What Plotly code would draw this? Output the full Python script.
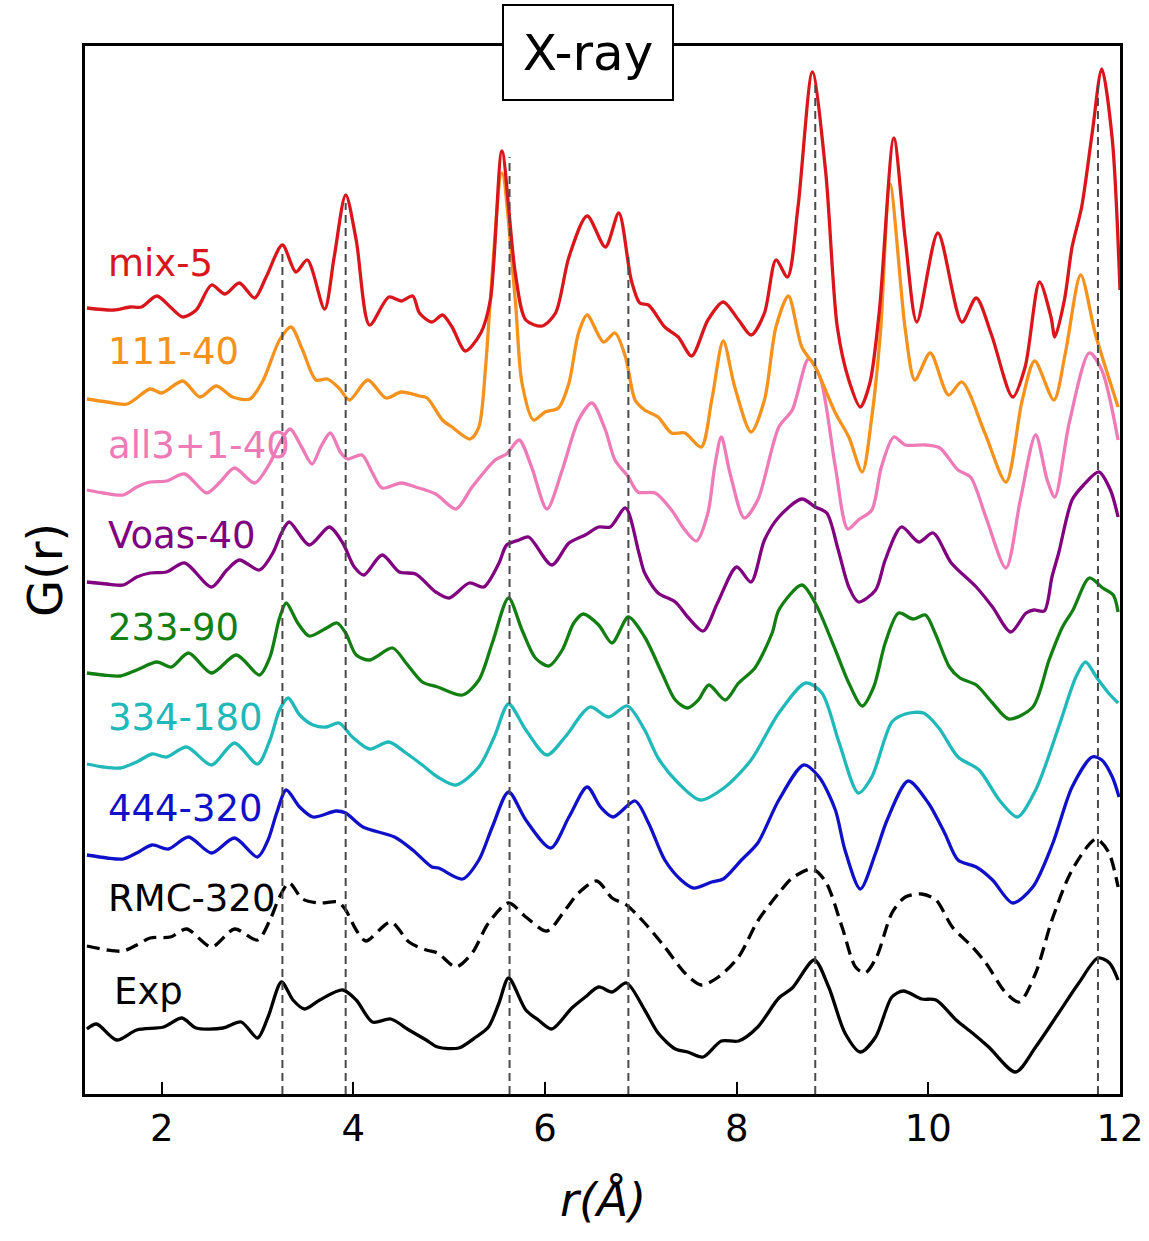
import plotly.graph_objects as go

# ---------------- data (G(r) of each model, r in Angstrom) ----------------
labels = ["mix-5", "111-40", "all3+1-40", "Voas-40", "233-90", "334-180", "444-320", "RMC-320", "Exp"]
offsets = [7.86, 6.94, 6.04, 5.12, 4.21, 3.30, 2.39, 1.48, 0.64]

mix5_r = [1.22,1.50,1.67,1.79,1.95,2.09,2.22,2.36,2.52,2.66,
          2.81,2.97,3.09,3.26,3.40,3.52,3.70,3.80,3.92,4.03,
          4.17,4.37,4.50,4.62,4.69,4.82,4.93,5.03,5.17,5.33,
          5.43,5.55,5.69,5.80,5.97,6.11,6.25,6.44,6.63,6.77,
          6.90,6.99,7.08,7.25,7.39,7.53,7.70,7.86,8.02,8.15,
          8.29,8.41,8.53,8.64,8.79,8.93,9.05,9.17,9.29,9.39,
          9.49,9.64,9.76,9.88,10.10,10.35,10.50,10.66,10.88,11.01,
          11.16,11.28,11.32,11.42,11.50,11.60,11.71,11.81,11.92,12.00]
mix5_g = [0.00,-0.02,0.01,0.01,0.12,0.01,-0.09,-0.02,0.23,0.14,
          0.25,0.10,0.31,0.63,0.36,0.48,-0.01,0.51,1.13,0.68,
          -0.17,0.11,0.07,0.12,-0.05,-0.14,-0.07,-0.19,-0.43,-0.25,
          0.08,1.57,0.35,-0.12,-0.18,-0.05,0.51,0.92,0.61,0.95,
          0.28,0.05,0.03,-0.19,-0.29,-0.48,-0.12,0.06,-0.12,-0.27,
          -0.05,0.48,0.31,1.01,2.36,1.35,-0.19,-0.72,-0.99,-0.75,
          -0.02,1.70,0.68,-0.14,0.75,-0.14,0.10,-0.27,-0.89,-0.59,
          0.26,-0.09,-0.29,0.08,0.61,1.01,1.75,2.39,1.68,0.18]

s111_r = [1.22,1.43,1.64,1.88,2.00,2.22,2.40,2.57,2.74,2.92,
          3.06,3.23,3.35,3.47,3.61,3.73,3.85,3.96,4.15,4.34,
          4.50,4.69,4.77,4.93,5.03,5.22,5.31,5.38,5.43,5.55,
          5.69,5.76,5.88,6.00,6.14,6.25,6.35,6.44,6.61,6.73,
          6.84,6.94,7.04,7.18,7.32,7.46,7.63,7.74,7.86,7.98,
          8.15,8.29,8.41,8.54,8.68,8.82,9.03,9.17,9.31,9.41,
          9.50,9.60,9.76,9.86,10.02,10.21,10.35,10.59,10.81,10.98,
          11.11,11.31,11.43,11.59,11.74,11.88,11.98]
s111_g = [0.01,-0.02,-0.04,0.11,0.07,0.19,0.03,0.14,0.03,0.01,
          0.20,0.60,0.73,0.50,0.20,0.21,0.12,0.00,0.20,0.02,
          0.08,0.04,0.02,-0.20,-0.27,-0.39,-0.27,0.33,1.00,2.27,
          1.00,0.17,-0.20,-0.12,-0.08,0.17,0.67,0.85,0.58,0.67,
          0.43,0.00,-0.10,-0.17,-0.33,-0.33,-0.47,0.00,0.59,0.13,
          -0.32,0.00,0.73,1.04,0.53,0.33,-0.13,-0.37,-0.72,-0.17,
          0.67,2.16,0.70,0.20,0.47,0.05,0.18,-0.33,-0.82,0.00,
          0.39,0.00,0.47,1.25,0.67,0.23,-0.07]

all3_r = [1.22,1.39,1.60,1.74,1.88,2.05,2.24,2.47,2.61,2.76,
          2.97,3.13,3.23,3.34,3.46,3.57,3.66,3.76,3.87,3.94,
          4.09,4.20,4.30,4.50,4.65,4.86,5.07,5.24,5.48,5.60,
          5.73,5.86,6.02,6.18,6.35,6.49,6.63,6.73,6.87,6.97,
          7.15,7.32,7.46,7.58,7.70,7.77,7.84,7.93,8.08,8.22,
          8.44,8.58,8.75,8.87,9.03,9.16,9.27,9.41,9.51,9.64,
          9.76,9.97,10.12,10.31,10.44,10.60,10.81,10.96,11.12,11.24,
          11.32,11.47,11.68,11.81,11.98]
all3_g = [0.00,-0.03,-0.05,0.03,0.08,0.09,0.16,-0.03,0.08,0.22,
          0.07,0.27,0.47,0.61,0.43,0.26,0.43,0.57,0.37,0.31,
          0.35,0.17,0.02,0.07,0.03,-0.04,-0.19,0.03,0.30,0.36,
          0.50,0.23,-0.19,0.20,0.70,0.87,0.60,0.30,0.13,-0.02,
          -0.03,-0.20,-0.40,-0.51,-0.23,0.23,0.53,0.17,-0.28,-0.10,
          0.63,0.80,1.31,1.13,0.23,-0.39,-0.30,-0.20,0.23,0.53,
          0.45,0.45,0.42,0.20,0.13,-0.27,-0.78,-0.10,0.55,0.10,
          -0.07,0.67,1.37,1.20,0.50]

voas_r = [1.22,1.43,1.60,1.74,1.88,2.05,2.24,2.52,2.68,2.81,
          3.02,3.16,3.25,3.33,3.54,3.75,3.89,4.01,4.11,4.30,
          4.48,4.65,4.86,5.00,5.21,5.36,5.52,5.60,5.73,5.83,
          6.07,6.25,6.42,6.56,6.68,6.84,6.98,7.04,7.18,7.36,
          7.49,7.65,7.80,8.00,8.15,8.29,8.44,8.68,8.82,8.94,
          9.06,9.17,9.27,9.45,9.55,9.72,9.90,10.05,10.24,10.50,
          10.67,10.86,11.02,11.10,11.21,11.29,11.36,11.50,11.62,11.78,
          11.90,11.98]
voas_g = [0.00,-0.02,-0.03,0.05,0.09,0.10,0.19,-0.05,0.12,0.22,
          0.12,0.29,0.49,0.60,0.37,0.55,0.39,0.15,0.07,0.27,
          0.10,0.08,-0.10,-0.16,-0.01,-0.05,0.19,0.37,0.42,0.45,
          0.17,0.39,0.47,0.55,0.55,0.74,0.29,0.09,-0.11,-0.20,
          -0.35,-0.49,-0.21,0.15,0.00,0.42,0.65,0.83,0.75,0.69,
          0.32,-0.05,-0.20,-0.08,0.22,0.55,0.40,0.49,0.19,-0.05,
          -0.25,-0.50,-0.31,-0.28,-0.29,0.05,0.29,0.82,0.97,1.10,
          0.92,0.65]

s233_r = [1.22,1.39,1.57,1.74,1.95,2.10,2.28,2.52,2.78,3.02,
          3.13,3.23,3.30,3.42,3.54,3.72,3.83,3.92,4.03,4.17,
          4.41,4.55,4.72,4.88,5.14,5.31,5.45,5.62,5.76,5.90,
          6.04,6.18,6.30,6.40,6.56,6.70,6.87,7.04,7.22,7.36,
          7.49,7.60,7.71,7.88,8.02,8.19,8.37,8.44,8.68,8.82,
          9.03,9.17,9.31,9.43,9.55,9.69,9.84,9.97,10.07,10.22,
          10.33,10.50,10.67,10.84,11.09,11.26,11.40,11.51,11.68,11.82,
          11.93,11.98]
s233_g = [0.00,-0.02,-0.03,0.03,0.11,0.06,0.20,0.00,0.18,-0.02,
          0.16,0.55,0.70,0.50,0.37,0.45,0.50,0.40,0.18,0.13,
          0.25,0.10,-0.09,-0.14,-0.22,-0.07,0.30,0.75,0.43,0.15,
          0.07,0.23,0.50,0.59,0.48,0.30,0.56,0.36,0.00,-0.27,
          -0.35,-0.27,-0.12,-0.27,-0.10,0.05,0.40,0.63,0.88,0.70,
          0.23,-0.10,-0.33,-0.14,0.30,0.60,0.54,0.58,0.40,0.06,
          -0.05,-0.12,-0.30,-0.46,-0.34,0.13,0.46,0.63,0.95,0.85,
          0.78,0.61]

s334_r = [1.22,1.39,1.57,1.74,1.90,2.05,2.26,2.52,2.76,3.00,
          3.13,3.23,3.32,3.44,3.58,3.72,3.85,3.99,4.17,4.37,
          4.55,4.72,4.88,5.07,5.31,5.47,5.62,5.80,6.02,6.21,
          6.47,6.66,6.86,7.04,7.18,7.39,7.62,7.88,8.15,8.44,
          8.72,8.89,9.07,9.27,9.41,9.62,9.76,9.95,10.11,10.31,
          10.53,10.74,10.93,11.12,11.36,11.54,11.64,11.76,11.88,11.98]
s334_g = [0.00,-0.03,-0.04,0.02,0.10,0.07,0.17,-0.01,0.21,0.00,
          0.24,0.54,0.66,0.49,0.39,0.37,0.41,0.27,0.15,0.22,
          0.11,-0.01,-0.13,-0.21,-0.03,0.27,0.60,0.34,0.09,0.27,
          0.57,0.47,0.58,0.34,0.06,-0.19,-0.36,-0.23,0.04,0.51,
          0.81,0.71,0.21,-0.29,-0.13,0.42,0.50,0.51,0.36,0.07,
          -0.06,-0.36,-0.53,-0.26,0.37,0.87,1.02,0.86,0.71,0.61]

s444_r = [1.22,1.43,1.60,1.74,1.90,2.07,2.28,2.52,2.76,3.00,
          3.11,3.20,3.30,3.44,3.58,3.82,3.92,4.10,4.43,4.62,
          4.82,4.89,5.14,5.31,5.45,5.62,5.80,6.06,6.25,6.44,
          6.58,6.71,6.94,7.08,7.25,7.42,7.55,7.74,7.86,8.05,
          8.22,8.44,8.70,8.86,9.03,9.13,9.29,9.45,9.57,9.79,
          10.00,10.17,10.31,10.50,10.67,10.88,11.09,11.30,11.50,11.71,
          11.81,11.92,11.99]
s444_g = [0.00,-0.03,-0.04,0.02,0.10,0.06,0.18,0.02,0.17,-0.02,
          0.15,0.42,0.65,0.48,0.38,0.44,0.42,0.28,0.18,0.05,
          -0.12,-0.13,-0.24,-0.05,0.28,0.63,0.35,0.07,0.38,0.68,
          0.48,0.38,0.54,0.32,-0.05,-0.25,-0.33,-0.27,-0.24,-0.05,
          0.12,0.55,0.90,0.78,0.45,0.05,-0.34,0.02,0.35,0.74,
          0.52,0.22,-0.05,-0.12,-0.25,-0.48,-0.32,0.12,0.68,0.98,
          0.95,0.78,0.58]

rmc_r = [1.22,1.43,1.60,1.74,1.88,2.09,2.26,2.52,2.76,3.00,
         3.13,3.23,3.33,3.47,3.65,3.84,3.92,4.03,4.13,4.39,
         4.58,4.76,4.88,5.07,5.24,5.41,5.62,5.80,6.02,6.21,
         6.35,6.54,6.70,6.85,7.04,7.25,7.46,7.63,7.81,8.02,
         8.22,8.44,8.58,8.79,8.93,9.10,9.24,9.34,9.46,9.62,
         9.76,9.93,10.08,10.25,10.46,10.60,10.81,10.95,11.12,11.29,
         11.50,11.75,11.88,11.98]
rmc_g = [0.00,-0.04,-0.05,0.01,0.08,0.09,0.17,-0.01,0.17,0.06,
         0.26,0.49,0.63,0.47,0.43,0.44,0.36,0.16,0.05,0.24,
         0.04,-0.04,-0.07,-0.21,-0.07,0.23,0.43,0.29,0.15,0.36,
         0.53,0.65,0.48,0.41,0.23,-0.01,-0.27,-0.39,-0.31,-0.11,
         0.25,0.53,0.68,0.77,0.64,0.19,-0.21,-0.27,-0.11,0.33,
         0.49,0.52,0.46,0.19,-0.01,-0.17,-0.47,-0.56,-0.27,0.26,
         0.76,1.07,0.94,0.59]

exp_r = [1.22,1.32,1.53,1.74,2.02,2.21,2.36,2.64,2.83,3.00,
         3.11,3.25,3.37,3.49,3.65,3.89,4.03,4.20,4.39,4.58,
         4.76,4.88,5.10,5.28,5.41,5.52,5.62,5.80,5.93,6.07,
         6.28,6.42,6.56,6.70,6.85,7.04,7.18,7.36,7.49,7.65,
         7.84,8.02,8.22,8.44,8.58,8.81,8.96,9.13,9.29,9.45,
         9.62,9.74,9.93,10.08,10.29,10.46,10.63,10.91,11.12,11.36,
         11.57,11.77,11.89,11.98]
exp_g = [0.01,0.06,-0.10,0.00,0.03,0.12,0.02,0.02,0.08,-0.08,
         0.13,0.48,0.30,0.21,0.30,0.40,0.30,0.08,0.11,0.00,
         -0.10,-0.17,-0.18,-0.07,0.03,0.27,0.52,0.20,0.10,0.01,
         0.22,0.33,0.43,0.38,0.47,0.20,-0.03,-0.19,-0.22,-0.27,
         -0.11,-0.11,0.03,0.32,0.42,0.70,0.43,-0.03,-0.22,-0.07,
         0.33,0.39,0.31,0.30,0.10,-0.03,-0.17,-0.42,-0.17,0.17,
         0.47,0.72,0.67,0.50]

# reference peak positions (vertical dashed guides) and their upper ends
guide_r = [3.26, 3.92, 5.63, 6.87, 8.82, 11.77]
guide_top = [8.41, 8.91, 9.37, 8.37, 10.14, 10.14]

xticks = [2, 4, 6, 8, 10, 12]

series_r = [mix5_r, s111_r, all3_r, voas_r, s233_r, s334_r, s444_r, rmc_r, exp_r]
series_g = [mix5_g, s111_g, all3_g, voas_g, s233_g, s334_g, s444_g, rmc_g, exp_g]
colors = ["#d8161b", "#f5921e", "#ee7ab7", "#800080", "#137f13", "#20b8b8", "#1010c8", "#000000", "#000000"]
dashes = ["solid"] * 7 + ["13px,7px", "solid"]
label_y = [8.31, 7.43, 6.49, 5.59, 4.67, 3.77, 2.86, 1.96, 1.03]
label_x = [1.42] * 8 + [1.48]

for r, g in zip(series_r, series_g):
    assert len(r) == len(g), (len(r), len(g))

fig = go.Figure()

# draw bottom curves first so that upper curves sit on top
for i in reversed(range(len(labels))):
    fig.add_trace(go.Scatter(
        x=series_r[i], y=[v + offsets[i] for v in series_g[i]],
        mode="lines", name=labels[i],
        line=dict(color=colors[i], width=3.3, dash=dashes[i], shape="spline", smoothing=0.8),
        showlegend=False, hoverinfo="skip"))

for xr, top in zip(guide_r, guide_top):
    fig.add_trace(go.Scatter(
        x=[xr, xr], y=[0, top], mode="lines",
        line=dict(color="#4a4a4a", width=2, dash="8px,5px"),
        showlegend=False, hoverinfo="skip"))

for i, lab in enumerate(labels):
    fig.add_annotation(x=label_x[i], y=label_y[i], xref="x", yref="y",
                       text=lab, showarrow=False, xanchor="left", yanchor="middle",
                       font=dict(family="DejaVu Sans", size=37, color=colors[i]))

# boxed title overlapping the top frame
fig.add_annotation(x=0.486, y=0.994, xref="paper", yref="paper", text="X-ray",
                   showarrow=False, xanchor="center", yanchor="middle",
                   width=168, height=93, borderpad=0,
                   bgcolor="white", bordercolor="black", borderwidth=2,
                   font=dict(family="DejaVu Sans", size=50, color="black"))

fig.add_annotation(x=-0.0386, y=0.5, xref="paper", yref="paper", text="G(r)",
                   textangle=-90, showarrow=False, xanchor="center", yanchor="middle",
                   font=dict(family="DejaVu Sans", size=48, color="black"))

fig.add_annotation(x=0.5, y=-0.101, xref="paper", yref="paper", text="<i>r(Å)</i>",
                   showarrow=False, xanchor="center", yanchor="middle",
                   font=dict(family="DejaVu Sans", size=46, color="black"))

fig.update_layout(
    width=1149, height=1241,
    margin=dict(l=85, r=29, t=46, b=147, autoexpand=False),
    paper_bgcolor="white", plot_bgcolor="white",
    xaxis=dict(range=[1.2, 12.0], tickvals=xticks, ticktext=[str(t) for t in xticks],
               ticks="inside", ticklen=12, tickwidth=2, tickcolor="black",
               showline=True, linecolor="black", linewidth=2.5, mirror=True,
               showgrid=False, zeroline=False, automargin=False,
               tickfont=dict(family="DejaVu Sans", size=37, color="black")),
    yaxis=dict(range=[0, 10.48], showticklabels=False, ticks="",
               showline=True, linecolor="black", linewidth=2.5, mirror=True,
               showgrid=False, zeroline=False, automargin=False),
)

fig.write_html("out.html")
